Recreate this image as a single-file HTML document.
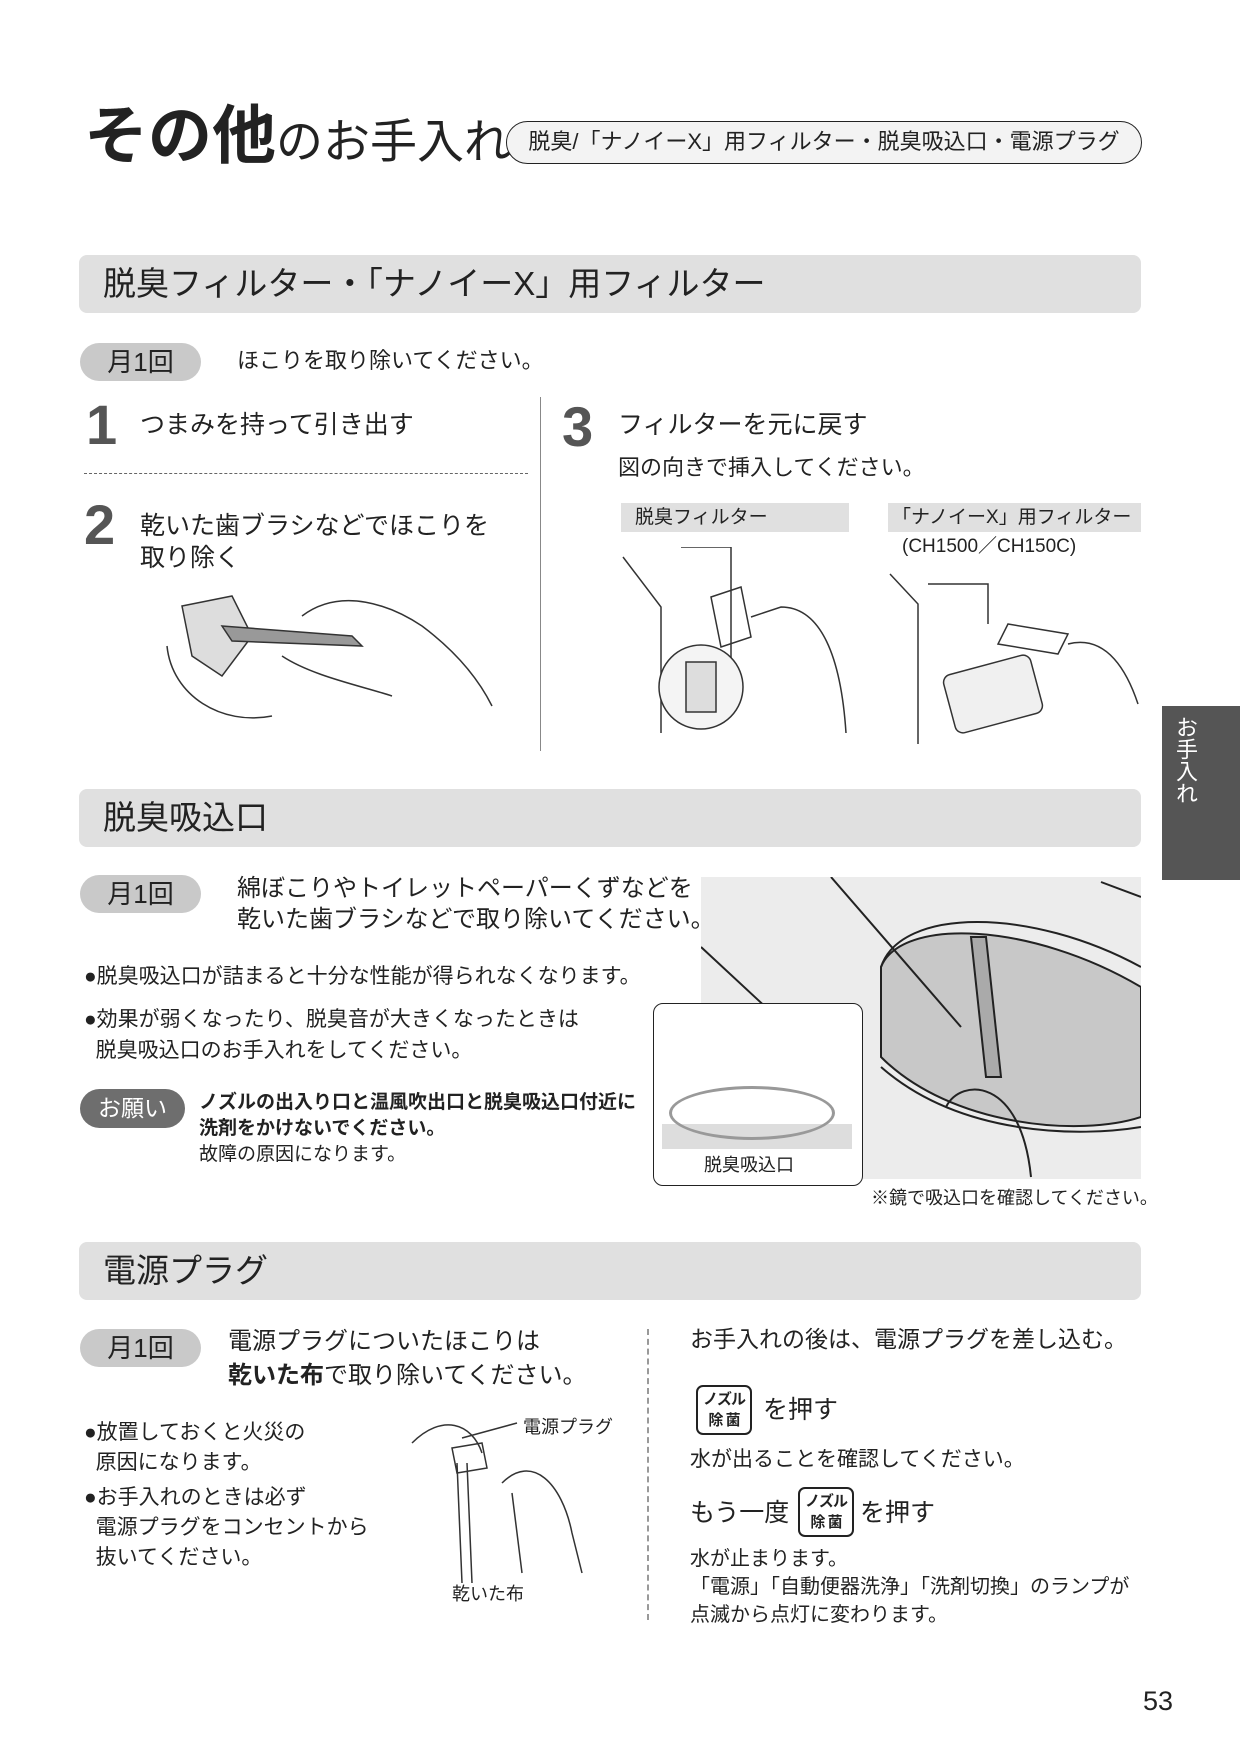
<!DOCTYPE html>
<html><head><meta charset="utf-8">
<style>
body{margin:0;background:#fff}
#p{position:relative;width:1240px;height:1754px;overflow:hidden;font-family:"Liberation Sans","Noto Sans CJK JP",sans-serif;color:#222}
.a{position:absolute;white-space:nowrap;line-height:1}
.bar{position:absolute;left:79px;width:1062px;height:58px;background:#e0e0e0;border-radius:8px}
.bar span{position:absolute;left:24px;top:12px;font-size:33px;line-height:1}
.pill{position:absolute;left:80px;width:121px;height:38px;background:#c9c9c9;border-radius:19px;font-size:26px;line-height:38px;text-align:center}
.num{position:absolute;font-size:56px;font-weight:bold;color:#555;line-height:1}
.btn{position:absolute;width:56px;height:50px;border:2px solid #222;border-radius:7px;font-size:15px;line-height:21px;text-align:center;box-sizing:border-box;padding-top:2px;font-weight:bold;white-space:nowrap;letter-spacing:-1px}
</style></head><body><div id="p">
<div class="a" style="left:84px;top:104px;font-size:64px;font-weight:bold">その他<span style="font-size:47px;font-weight:normal">のお手入れ</span></div>
<div class="a" style="left:506px;top:121px;width:636px;height:43px;border:1.5px solid #222;border-radius:22px;background:#f3f3f3;box-sizing:border-box;font-size:22px;line-height:40px;text-align:center">脱臭/「ナノイーX」用フィルター・脱臭吸込口・電源プラグ</div>

<div class="bar" style="top:255px"><span>脱臭フィルター・「ナノイーX」用フィルター</span></div>
<div class="pill" style="top:343px">月1回</div>
<div class="a" style="left:237px;top:350px;font-size:22px">ほこりを取り除いてください。</div>
<div class="num" style="left:86px;top:397px">1</div>
<div class="a" style="left:140px;top:413px;font-size:25px">つまみを持って引き出す</div>
<div class="a" style="left:84px;top:473px;width:444px;border-top:1.5px dashed #666"></div>
<div class="a" style="left:540px;top:397px;height:354px;border-left:1.5px solid #888"></div>
<div class="num" style="left:84px;top:497px">2</div>
<div class="a" style="left:140px;top:510px;font-size:25px;line-height:32px">乾いた歯ブラシなどでほこりを<br>取り除く</div>
<svg class="a" style="left:162px;top:586px" width="336" height="148" viewBox="0 0 336 148" fill="none" stroke="#333" stroke-width="1.5">
<path d="M20 20 L70 10 L90 50 L60 90 L30 70 Z" fill="#ddd"/><path d="M60 40 L190 50 L200 60 L70 55Z" fill="#999"/><path d="M5 60 C10 110 60 140 110 130 M140 30 C180 0 230 20 260 40 C300 70 320 100 330 120 M120 70 C150 90 200 100 230 110"/></svg>
<div class="num" style="left:562px;top:399px">3</div>
<div class="a" style="left:618px;top:413px;font-size:25px">フィルターを元に戻す</div>
<div class="a" style="left:618px;top:457px;font-size:22px">図の向きで挿入してください。</div>
<div class="a" style="left:621px;top:503px;width:228px;height:29px;background:#e0e0e0;font-size:19px;line-height:29px;padding-left:14px;box-sizing:border-box">脱臭フィルター</div>
<div class="a" style="left:888px;top:503px;width:253px;height:29px;background:#e0e0e0;font-size:19px;line-height:29px;padding-left:4px;box-sizing:border-box">「ナノイーX」用フィルター</div>
<div class="a" style="left:902px;top:537px;font-size:19px">(CH1500／CH150C)</div>
<svg class="a" style="left:621px;top:547px" width="228" height="186" fill="none" stroke="#333" stroke-width="1.5"><path d="M2 10 L40 60 L40 186 M60 0 L110 0 L110 120 M90 50 L120 40 L130 90 L100 100Z M130 70 L160 60 C200 60 220 110 225 186"/><circle cx="80" cy="140" r="42" fill="#f4f4f4"/><rect x="65" y="115" width="30" height="50" fill="#ddd"/></svg>
<svg class="a" style="left:888px;top:564px" width="253" height="180" fill="none" stroke="#333" stroke-width="1.5"><path d="M2 10 L30 40 L30 180 M40 20 L100 20 L100 60 M120 60 L180 70 L170 90 L110 80Z M180 80 C220 70 240 110 250 140"/><rect x="60" y="100" width="90" height="60" rx="8" fill="#f0f0f0" transform="rotate(-15 105 130)"/></svg>

<div class="a" style="left:1162px;top:706px;width:78px;height:174px;background:#555"></div>
<div class="a" style="left:1174px;top:716px;font-size:22px;color:#fff;writing-mode:vertical-rl">お手入れ</div>

<div class="bar" style="top:789px"><span>脱臭吸込口</span></div>
<div class="pill" style="top:875px">月1回</div>
<div class="a" style="left:237px;top:873px;font-size:24px;line-height:31px">綿ぼこりやトイレットペーパーくずなどを<br>乾いた歯ブラシなどで取り除いてください。</div>
<div class="a" style="left:84px;top:966px;font-size:21px">●脱臭吸込口が詰まると十分な性能が得られなくなります。</div>
<div class="a" style="left:84px;top:1004px;font-size:21px;line-height:31px">●効果が弱くなったり、脱臭音が大きくなったときは<br>&nbsp;&nbsp;脱臭吸込口のお手入れをしてください。</div>
<div class="a" style="left:80px;top:1089px;width:105px;height:39px;background:#6e6e6e;border-radius:20px;color:#fff;font-size:23px;line-height:39px;text-align:center">お願い</div>
<div class="a" style="left:199px;top:1090px;font-size:19px;line-height:26px"><b>ノズルの出入り口と温風吹出口と脱臭吸込口付近に<br>洗剤をかけないでください。</b><br>故障の原因になります。</div>
<svg class="a" style="left:701px;top:877px" width="440" height="302" fill="none" stroke="#222" stroke-width="2">
<rect x="0" y="0" width="440" height="302" fill="#ececec" stroke="none"/>
<path d="M180 90 C200 40 330 45 440 110 L440 240 C380 260 250 250 180 180Z" fill="#c8c8c8"/>
<path d="M180 90 C200 30 330 30 440 90 M0 70 L140 200 M130 0 L260 150 M440 20 L400 5 M180 190 C260 260 380 260 440 250"/>
<path d="M270 60 L285 200 L300 200 L285 60Z" fill="#aaa"/><path d="M245 230 C260 200 320 200 330 300"/></svg>
<div class="a" style="left:653px;top:1003px;width:210px;height:183px;border:1.5px solid #222;border-radius:10px;background:#fff;box-sizing:border-box;overflow:hidden">
<div style="position:absolute;left:8px;top:120px;width:190px;height:25px;background:#ddd"></div>
<div style="position:absolute;left:15px;top:82px;width:160px;height:48px;border:3px solid #999;border-radius:50%"></div>
<div style="position:absolute;left:50px;top:152px;font-size:18px">脱臭吸込口</div></div>
<div class="a" style="left:871px;top:1189px;font-size:18px">※鏡で吸込口を確認してください。</div>

<div class="bar" style="top:1242px"><span>電源プラグ</span></div>
<div class="pill" style="top:1329px">月1回</div>
<div class="a" style="left:228px;top:1325px;font-size:24px;line-height:34px">電源プラグについたほこりは<br><b>乾いた布</b>で取り除いてください。</div>
<div class="a" style="left:84px;top:1418px;font-size:21px;line-height:30px">●放置しておくと火災の<br>&nbsp;&nbsp;原因になります。</div>
<div class="a" style="left:84px;top:1483px;font-size:21px;line-height:30px">●お手入れのときは必ず<br>&nbsp;&nbsp;電源プラグをコンセントから<br>&nbsp;&nbsp;抜いてください。</div>
<svg class="a" style="left:402px;top:1413px" width="224" height="170" fill="none" stroke="#333" stroke-width="1.5"><path d="M10 30 C40 0 70 10 80 40 M55 50 L60 170 M65 50 L70 170 M50 35 L80 30 L85 55 L55 60Z M100 70 C130 40 160 70 170 120 L180 160 M110 80 L120 160 M60 25 L115 10"/></svg>
<div class="a" style="left:523px;top:1418px;font-size:18px">電源プラグ</div>
<div class="a" style="left:452px;top:1585px;font-size:18px">乾いた布</div>
<div class="a" style="left:647px;top:1329px;height:291px;border-left:2px dashed #999"></div>
<div class="a" style="left:690px;top:1328px;font-size:23px">お手入れの後は、電源プラグを差し込む。</div>
<div class="btn" style="left:696px;top:1385px">ノズル<br>除 菌</div>
<div class="a" style="left:763px;top:1398px;font-size:25px">を押す</div>
<div class="a" style="left:690px;top:1449px;font-size:21px">水が出ることを確認してください。</div>
<div class="a" style="left:690px;top:1501px;font-size:25px">もう一度</div>
<div class="btn" style="left:798px;top:1487px">ノズル<br>除 菌</div>
<div class="a" style="left:860px;top:1501px;font-size:25px">を押す</div>
<div class="a" style="left:690px;top:1545px;font-size:20px;line-height:28px">水が止まります。<br>「電源」「自動便器洗浄」「洗剤切換」のランプが<br>点滅から点灯に変わります。</div>
<div class="a" style="left:1143px;top:1688px;font-size:27px">53</div>
</div></body></html>
